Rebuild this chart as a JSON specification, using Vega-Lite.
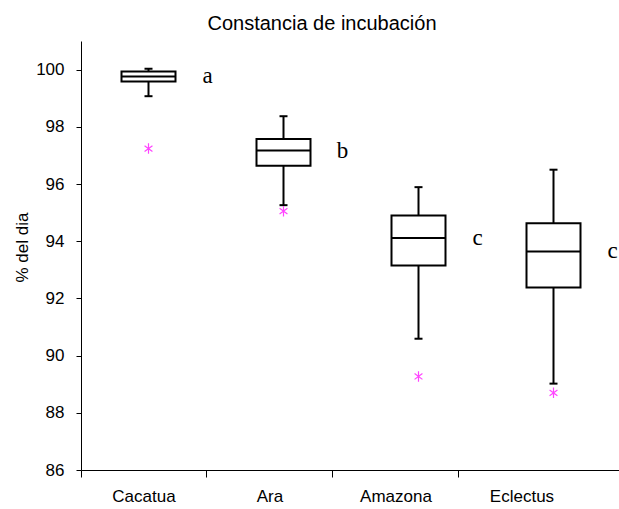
{
  "$schema": "https://vega.github.io/schema/vega-lite/v6.json",
  "width": 540,
  "height": 429,
  "autosize": "none",
  "padding": {"left": 81, "top": 41, "right": 0, "bottom": 39},
  "background": "white",
  "view": {"stroke": null},
  "title": {
    "text": "Constancia de incubación",
    "font": "Liberation Sans",
    "fontSize": 20,
    "fontWeight": "normal",
    "color": "black",
    "dx": -29,
    "offset": 7
  },
  "data": {
    "values": [
      {"especie": "Cacatua", "lo": 99.07, "q1": 99.58, "med": 99.76, "q3": 99.93, "hi": 100.03, "out": 97.24, "letra": "a"},
      {"especie": "Ara", "lo": 95.26, "q1": 96.64, "med": 97.17, "q3": 97.57, "hi": 98.37, "out": 95.05, "letra": "b"},
      {"especie": "Amazona", "lo": 90.59, "q1": 93.15, "med": 94.11, "q3": 94.9, "hi": 95.89, "out": 89.27, "letra": "c"},
      {"especie": "Eclectus", "lo": 89.02, "q1": 92.38, "med": 93.64, "q3": 94.63, "hi": 96.5, "out": 88.7, "letra": "c"}
    ]
  },
  "encoding": {
    "y": {
      "type": "quantitative",
      "scale": {"domain": [86, 101], "nice": false, "zero": false},
      "axis": {
        "values": [86, 88, 90, 92, 94, 96, 98, 100],
        "title": "% del dia",
        "titleFont": "Liberation Sans",
        "titleFontSize": 17,
        "titleFontWeight": "normal",
        "titleColor": "black",
        "titlePadding": 4,
        "titleY": 206,
        "labelFont": "Liberation Sans",
        "labelFontSize": 17,
        "labelColor": "black",
        "labelPadding": 12,
        "tickSize": 5,
        "tickColor": "black",
        "domainColor": "black",
        "grid": false
      }
    }
  },
  "layer": [
    {
      "mark": {"type": "point", "opacity": 0},
      "encoding": {
        "x": {
          "field": "especie",
          "type": "nominal",
          "sort": ["Cacatua", "Ara", "Amazona", "Eclectus"],
          "scale": {"type": "band", "paddingInner": 0, "paddingOuter": 0.1429, "align": 0},
          "axis": {
            "title": null,
            "labelAngle": 0,
            "labelFont": "Liberation Sans",
            "labelFontSize": 17,
            "labelColor": "black",
            "labelPadding": 11,
            "bandPosition": 0,
            "tickExtra": false,
            "tickSize": 7,
            "tickColor": "black",
            "domainColor": "black",
            "grid": false
          }
        },
        "y": {"field": "med"}
      }
    },
    {
      "encoding": {
        "x": {
          "field": "especie",
          "type": "nominal",
          "sort": ["Cacatua", "Ara", "Amazona", "Eclectus"],
          "scale": {"type": "band", "paddingInner": 0, "paddingOuter": 0},
          "axis": null
        }
      },
      "layer": [
        {
          "mark": {"type": "rule", "color": "black", "strokeWidth": 2},
          "encoding": {"y": {"field": "lo"}, "y2": {"field": "hi"}}
        },
        {
          "mark": {"type": "tick", "color": "black", "size": 8, "thickness": 2, "opacity": 1},
          "encoding": {"y": {"field": "lo"}}
        },
        {
          "mark": {"type": "tick", "color": "black", "size": 8, "thickness": 2, "opacity": 1},
          "encoding": {"y": {"field": "hi"}}
        },
        {
          "mark": {"type": "bar", "fill": "white", "stroke": "black", "strokeWidth": 2, "width": {"band": 0.4}},
          "encoding": {"y": {"field": "q1"}, "y2": {"field": "q3"}}
        },
        {
          "mark": {"type": "tick", "color": "black", "size": 54, "thickness": 2, "opacity": 1},
          "encoding": {"y": {"field": "med"}}
        },
        {
          "mark": {
            "type": "point",
            "shape": "M0,-1L0,1M-0.75,-0.55L0.75,0.55M-0.75,0.55L0.75,-0.55",
            "filled": false,
            "stroke": "#ff44ff",
            "strokeWidth": 1.2,
            "size": 110,
            "opacity": 1
          },
          "encoding": {"y": {"field": "out"}}
        },
        {
          "mark": {"type": "text", "font": "Liberation Serif", "fontSize": 23, "color": "black", "dx": 59, "baseline": "middle", "align": "center"},
          "encoding": {"y": {"field": "med"}, "text": {"field": "letra"}}
        }
      ]
    }
  ],
  "resolve": {"scale": {"x": "independent"}, "axis": {"x": "independent"}}
}
